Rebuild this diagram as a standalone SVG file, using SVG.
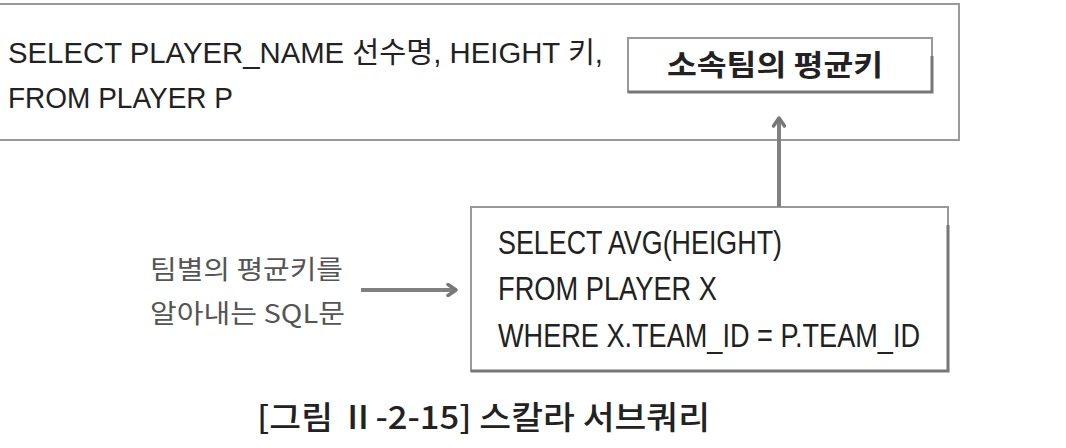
<svg xmlns="http://www.w3.org/2000/svg" width="1066" height="448" viewBox="0 0 1066 448">
<defs>
<style>
.box{fill:#fff;stroke:#999;stroke-width:2}
.shadow{fill:none;stroke:#777;stroke-width:3}
.t{font-family:"Liberation Sans","Noto Sans CJK KR",sans-serif;fill:#222}
.k{font-family:"Noto Sans CJK KR","Liberation Sans",sans-serif;fill:#222}
.lbl{font-family:"Noto Sans CJK KR","Liberation Sans",sans-serif;fill:#555;font-size:26px}
.conn{fill:none;stroke:#808080;stroke-width:4}
</style>
<marker id="ah" viewBox="0 0 14 14" refX="11" refY="7" markerWidth="14" markerHeight="14" markerUnits="userSpaceOnUse" orient="auto">
<path d="M3,1.5 L11,7 L3,12.5" fill="none" stroke="#777" stroke-width="3.5" stroke-linecap="round" stroke-linejoin="round"/>
</marker>
</defs>
<rect width="1066" height="448" fill="#fff"/>
<g id="outer-query">
<rect class="box" x="-10" y="4" width="969" height="136"/>
<text class="t" x="8" y="63" font-size="29" textLength="595" lengthAdjust="spacingAndGlyphs">SELECT PLAYER_NAME 선수명, HEIGHT 키,</text>
<text class="t" x="8" y="108" font-size="29" textLength="225" lengthAdjust="spacingAndGlyphs">FROM PLAYER P</text>
</g>
<g id="avg-height">
<rect class="box" x="628" y="38" width="304" height="54"/>
<path class="shadow" d="M932,56 V92 H628"/>
<text class="k" x="775" y="76" font-size="29" font-weight="bold" text-anchor="middle" textLength="216" lengthAdjust="spacingAndGlyphs">소속팀의 평균키</text>
</g>
<g id="subquery">
<rect class="box" x="471" y="207" width="477" height="164"/>
<path class="shadow" d="M948,225 V371 H471"/>
<text class="t" x="498" y="254" font-size="33" textLength="284" lengthAdjust="spacingAndGlyphs">SELECT AVG(HEIGHT)</text>
<text class="t" x="498" y="300" font-size="33" textLength="219" lengthAdjust="spacingAndGlyphs">FROM PLAYER X</text>
<text class="t" x="498" y="347" font-size="33" textLength="422" lengthAdjust="spacingAndGlyphs">WHERE X.TEAM_ID = P.TEAM_ID</text>
</g>
<g id="note">
<text class="lbl" x="150" y="279" textLength="193" lengthAdjust="spacingAndGlyphs">팀별의 평균키를</text>
<text class="lbl" x="150" y="323" textLength="195" lengthAdjust="spacingAndGlyphs">알아내는 SQL문</text>
</g>
<g id="caption">
<text class="k" x="257" y="429" font-size="32" font-weight="500" textLength="453" lengthAdjust="spacingAndGlyphs">[그림 Ⅱ-2-15] 스칼라 서브쿼리</text>
</g>
<g id="connectors">
<line class="conn" x1="779" y1="207" x2="779" y2="118" marker-end="url(#ah)"/>
<line class="conn" x1="361" y1="290" x2="456" y2="290" marker-end="url(#ah)"/>
</g>
</svg>
